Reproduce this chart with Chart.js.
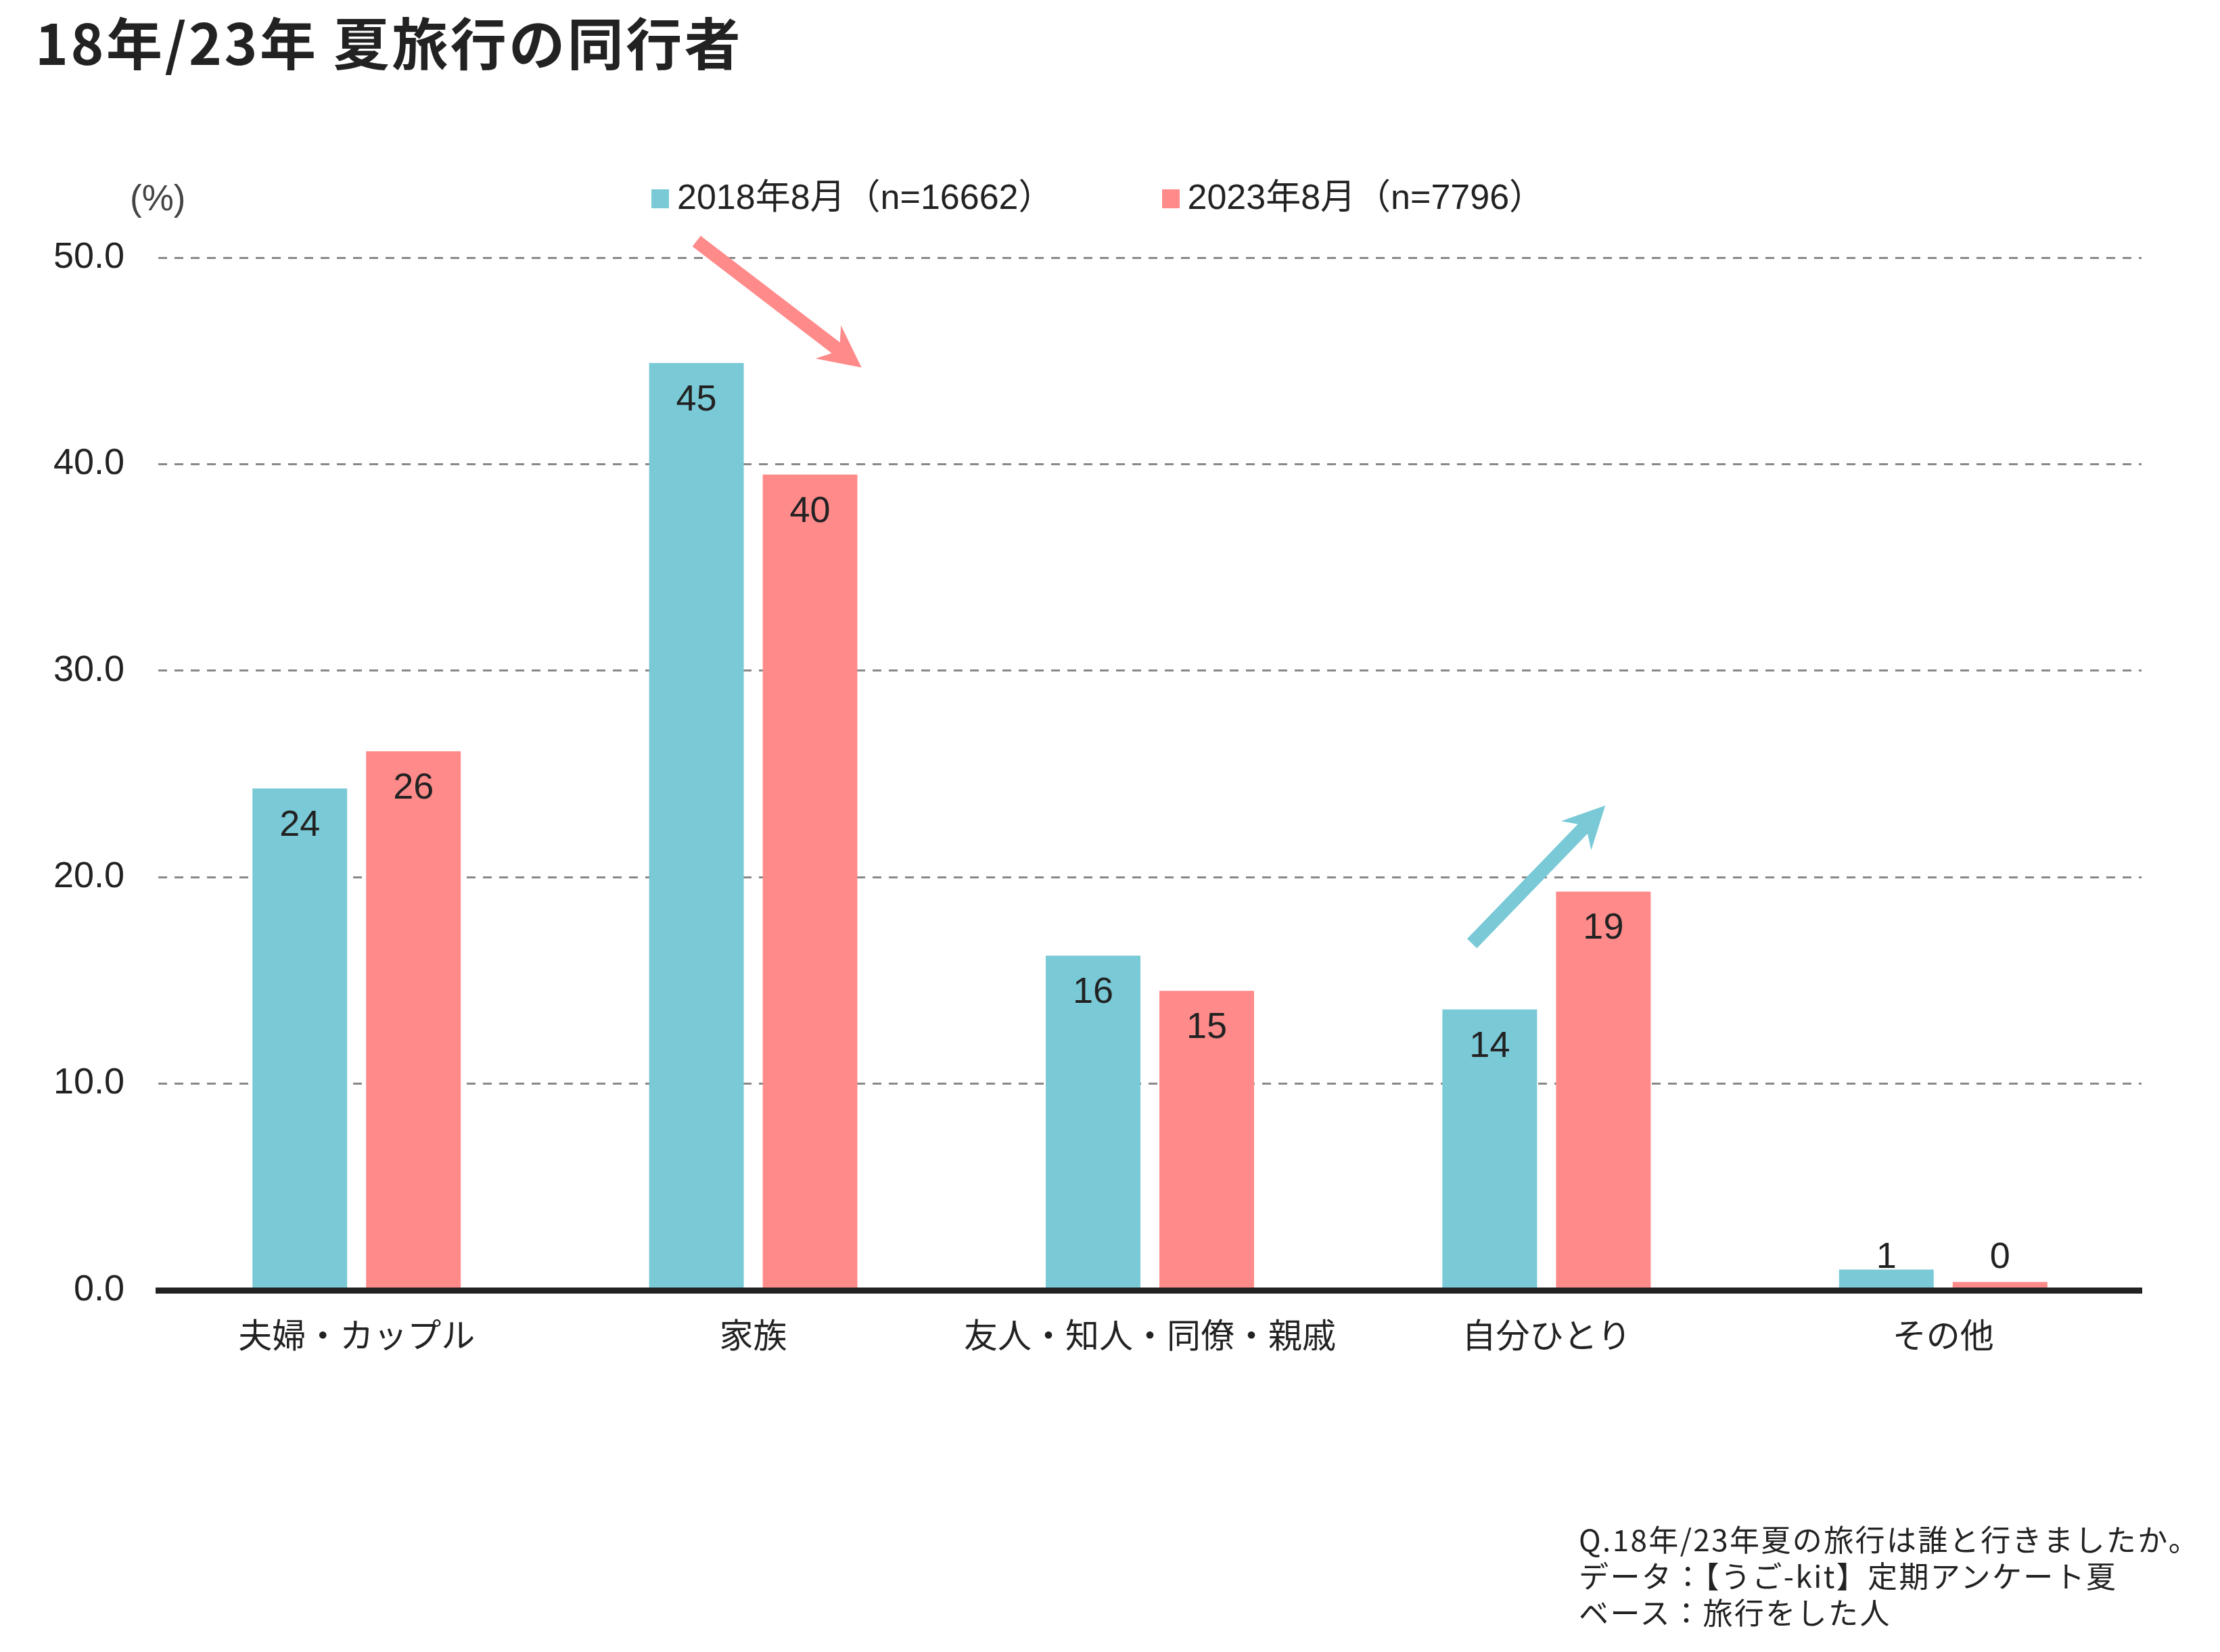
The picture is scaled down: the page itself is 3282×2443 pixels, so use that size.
<!DOCTYPE html>
<html>
<head>
<meta charset="utf-8">
<script src="https://cdn.jsdelivr.net/npm/chart.js@4/dist/chart.umd.min.js"></script>
<style>
html,body{margin:0;padding:0;background:#fff;}
#wrap{position:relative;width:3282px;height:2443px;overflow:hidden;font-family:"Noto Sans CJK JP",sans-serif;color:#222;}
#c{position:absolute;left:0;top:0;}
.t{position:absolute;white-space:nowrap;line-height:1;margin:0;}
#title{left:52px;top:19px;font-size:83px;font-weight:700;letter-spacing:3.5px;color:#222;}
#unit{left:192px;top:266px;font-size:53px;font-family:"Liberation Sans","Noto Sans CJK JP",sans-serif;color:#444;}
#legend{position:absolute;left:963px;top:265px;display:flex;align-items:center;font-family:"Liberation Sans","Noto Sans CJK JP",sans-serif;font-size:52px;line-height:1;color:#222;white-space:nowrap;}
#legend .item{display:flex;align-items:center;margin-right:160px;}
#legend .box{width:26px;height:28px;margin-right:12px;margin-top:6px;}
#note{left:2334px;top:2248px;font-size:44px;line-height:54px;letter-spacing:2.4px;color:#222;}
</style>
</head>
<body>
<div id="wrap">
<canvas id="c" width="3282" height="2443"></canvas>
<div class="t" id="title">18年/23年 夏旅行の同行者</div>
<div class="t" id="unit">(%)</div>
<div id="legend"></div>
<div class="t" id="note">Q.18年/23年夏の旅行は誰と行きましたか。<br>データ：【うご-kit】定期アンケート夏<br>ベース：旅行をした人</div>
</div>
<script>
// ---- data ----
const categories = ['夫婦・カップル', '家族', '友人・知人・同僚・親戚', '自分ひとり', 'その他'];
const seriesNames = ['2018年8月（n=16662）', '2023年8月（n=7796）'];
const values2018 = [24.3, 44.9, 16.2, 13.6, 1.0];
const values2023 = [26.1, 39.5, 14.5, 19.3, 0.4];
const yTicks = [0, 10, 20, 30, 40, 50];

// ---- styles ----
const COLOR_2018 = '#79C9D6';
const COLOR_2023 = '#FF8A8A';
const TEXT = '#222222';

// annotation arrows in data space (category index, value)
const arrows = [
  { from: [0.857, 50.8], to: [1.273, 44.68], color: COLOR_2023 },
  { from: [2.812, 16.79], to: [3.148, 23.47], color: COLOR_2018 }
];

const valueLabelPlugin = {
  id: 'valueLabels',
  afterDatasetsDraw(chart) {
    const ctx = chart.ctx;
    const yScale = chart.scales.y;
    const base = yScale.getPixelForValue(0);
    ctx.save();
    ctx.font = '54px "Liberation Sans", Arial, sans-serif';
    ctx.fillStyle = TEXT;
    ctx.textAlign = 'center';
    chart.data.datasets.forEach((ds, di) => {
      const meta = chart.getDatasetMeta(di);
      meta.data.forEach((bar, i) => {
        const v = ds.data[i];
        const label = String(Math.round(v));
        if (base - bar.y > 110) {
          ctx.textBaseline = 'middle';
          ctx.fillText(label, bar.x, bar.y + 55);
        } else {
          ctx.textBaseline = 'alphabetic';
          ctx.fillText(label, bar.x, base - 33);
        }
      });
    });
    ctx.restore();
  }
};

const arrowPlugin = {
  id: 'trendArrows',
  afterDatasetsDraw(chart) {
    const ctx = chart.ctx;
    const xs = chart.scales.x, ys = chart.scales.y;
    ctx.save();
    arrows.forEach(a => {
      const x1 = xs.getPixelForValue(a.from[0]), y1 = ys.getPixelForValue(a.from[1]);
      const x2 = xs.getPixelForValue(a.to[0]), y2 = ys.getPixelForValue(a.to[1]);
      const dx = x2 - x1, dy = y2 - y1, len = Math.hypot(dx, dy);
      const ux = dx / len, uy = dy / len, px = -uy, py = ux;
      const hw = 10, headLen = 62, headHalf = 31, notch = 48;
      ctx.beginPath();
      ctx.moveTo(x1 + px * hw, y1 + py * hw);
      ctx.lineTo(x2 - ux * notch + px * hw, y2 - uy * notch + py * hw);
      ctx.lineTo(x2 - ux * headLen + px * headHalf, y2 - uy * headLen + py * headHalf);
      ctx.lineTo(x2, y2);
      ctx.lineTo(x2 - ux * headLen - px * headHalf, y2 - uy * headLen - py * headHalf);
      ctx.lineTo(x2 - ux * notch - px * hw, y2 - uy * notch - py * hw);
      ctx.lineTo(x1 - px * hw, y1 - py * hw);
      ctx.closePath();
      ctx.fillStyle = a.color;
      ctx.fill();
    });
    ctx.restore();
  }
};

const chart = new Chart(document.getElementById('c'), {
  type: 'bar',
  data: {
    labels: categories,
    datasets: [
      { label: seriesNames[0], data: values2018, backgroundColor: COLOR_2018, borderWidth: 0 },
      { label: seriesNames[1], data: values2023, backgroundColor: COLOR_2023, borderWidth: 0 }
    ]
  },
  options: {
    responsive: false,
    animation: false,
    devicePixelRatio: 1,
    events: [],
    categoryPercentage: 0.573,
    barPercentage: 0.833,
    layout: { padding: { top: 381, bottom: 405, left: 0, right: 116 } },
    plugins: { legend: { display: false }, title: { display: false }, tooltip: { enabled: false } },
    scales: {
      x: {
        grid: { display: false, drawTicks: false },
        border: { display: true, color: '#222222', width: 9, z: 1 },
        ticks: {
          color: TEXT, padding: 36, maxRotation: 0, autoSkip: false,
          font: { family: '"Noto Sans CJK JP", sans-serif', size: 50 }
        },
        afterFit(scale) { scale.height = 130; }
      },
      y: {
        min: yTicks[0], max: yTicks[yTicks.length - 1],
        afterBuildTicks(scale) { scale.ticks = yTicks.map(v => ({ value: v })); },
        grid: { color: '#888888', lineWidth: 3, drawTicks: false },
        border: { display: false, dash: [13, 11] },
        ticks: {
          color: TEXT, padding: 50,
          font: { family: '"Liberation Sans", Arial, sans-serif', size: 54 },
          callback: v => Number(v).toFixed(1)
        },
        afterFit(scale) { scale.width = 234; }
      }
    }
  },
  plugins: [valueLabelPlugin, arrowPlugin]
});

// legend built from the chart's datasets
const legend = document.getElementById('legend');
chart.data.datasets.forEach(ds => {
  const item = document.createElement('div');
  item.className = 'item';
  const box = document.createElement('div');
  box.className = 'box';
  box.style.background = ds.backgroundColor;
  const txt = document.createElement('span');
  txt.textContent = ds.label;
  item.appendChild(box);
  item.appendChild(txt);
  legend.appendChild(item);
});
</script>
</body>
</html>
